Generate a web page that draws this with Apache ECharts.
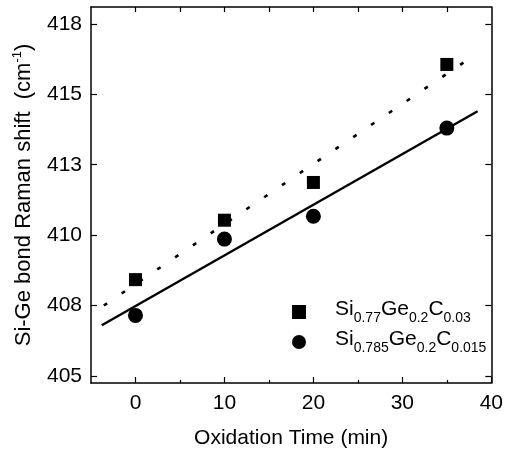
<!DOCTYPE html>
<html><head><meta charset="utf-8">
<script src="https://cdn.jsdelivr.net/npm/echarts@6/dist/echarts.min.js"></script>
<style>html,body{margin:0;padding:0;background:#fff}#c{width:506px;height:454px}</style>
</head><body><div id="c"></div>
<script>
// Data
const times = [0, 10, 20, 35];
const sqValues = [408.42, 410.53, 411.87, 416.06];  // Si0.77Ge0.2C0.03
const ciValues = [407.15, 409.86, 410.67, 413.8];   // Si0.785Ge0.2C0.015
const sqFit = [[-3.56, 407.5], [38.2, 416.41]];
const ciFit = [[-3.79, 406.8], [38.46, 414.4]];
const yTicks = [405, 407.5, 410, 412.5, 415, 417.5];
const xTicks = [0, 10, 20, 30, 40];
const xMinor = [5, 15, 25, 35];
const xTopTicks = [0, 5, 10, 15, 20, 25, 30, 35];

const FONT = 'Liberation Sans';
const chart = echarts.init(document.getElementById('c'));
const xRange = {min: -5, max: 40};
const yRange = {min: 404.75, max: 418.1};
chart.setOption({
  animation: false,
  textStyle: {fontFamily: FONT, color: '#000'},
  grid: {left: 91, right: 14, top: 7, bottom: 68},
  legend: {
    orient: 'vertical', left: 287, top: 294, itemWidth: 14, itemHeight: 14, itemGap: 4,
    data: ['sq', 'ci'],
    formatter: function (n) {
      return n === 'sq'
        ? '{sp|}{n|Si}{s|0.77}{n|Ge}{s|0.2}{n|C}{s|0.03}'
        : '{sp|}{n|Si}{s|0.785}{n|Ge}{s|0.2}{n|C}{s|0.015}';
    },
    textStyle: {
      rich: {
        sp: {width: 24},
        n: {fontSize: 21, fontFamily: FONT, color: '#000', lineHeight: 26, verticalAlign: 'top'},
        s: {fontSize: 14, fontFamily: FONT, color: '#000', lineHeight: 26, verticalAlign: 'bottom', padding: [8, 0, 0, 0]}
      }
    }
  },
  xAxis: [{
    type: 'value', ...xRange, position: 'bottom',
    name: 'Oxidation Time (min)', nameLocation: 'middle', nameGap: 45,
    nameTextStyle: {fontSize: 21, fontFamily: FONT, color: '#000'},
    axisLine: {onZero: false, lineStyle: {color: '#000', width: 1.5}},
    axisTick: {inside: true, length: 6, customValues: xTicks, lineStyle: {color: '#000', width: 1.2}},
    axisLabel: {customValues: xTicks, fontSize: 21, color: '#000', margin: 10},
    splitLine: {show: false}
  }, {
    type: 'value', ...xRange, position: 'bottom',
    axisLine: {show: false, onZero: false},
    axisTick: {inside: true, length: 3, customValues: xMinor, lineStyle: {color: '#000', width: 1.2}},
    axisLabel: {show: false}, splitLine: {show: false}
  }, {
    type: 'value', ...xRange, position: 'top',
    axisLine: {onZero: false, lineStyle: {color: '#000', width: 1.5}},
    axisTick: {inside: true, length: 5, customValues: xTopTicks, lineStyle: {color: '#000', width: 1.2}},
    axisLabel: {show: false}, splitLine: {show: false}
  }],
  yAxis: [{
    type: 'value', ...yRange, position: 'left',
    name: '{a|Si-Ge bond Raman shift  (cm}{sup|-1}{a|)}',
    nameLocation: 'middle', nameGap: 56, nameRotate: 90,
    nameTextStyle: {rich: {
      a: {fontSize: 22, fontFamily: FONT, color: '#000', lineHeight: 24, verticalAlign: 'bottom'},
      sup: {fontSize: 13, fontFamily: FONT, color: '#000', lineHeight: 24, verticalAlign: 'top'}
    }},
    axisLine: {onZero: false, lineStyle: {color: '#000', width: 1.5}},
    axisTick: {inside: true, length: 6, customValues: yTicks, lineStyle: {color: '#000', width: 1.2}},
    axisLabel: {customValues: yTicks, fontSize: 21, color: '#000', margin: 9,
      formatter: v => String(Math.round(v))},
    splitLine: {show: false}
  }, {
    type: 'value', ...yRange, position: 'right',
    axisLine: {onZero: false, lineStyle: {color: '#000', width: 1.5}},
    axisTick: {inside: true, length: 6, customValues: yTicks, lineStyle: {color: '#000', width: 1.2}},
    axisLabel: {show: false}, splitLine: {show: false}
  }],
  series: [
    {type: 'line', data: sqFit, symbol: 'none', silent: true,
     lineStyle: {color: '#000', width: 2.6, type: [4, 17.5]}},
    {type: 'line', data: ciFit, symbol: 'none', silent: true,
     lineStyle: {color: '#000', width: 2.4}},
    {name: 'sq', type: 'scatter', symbol: 'rect', symbolSize: 13,
     itemStyle: {color: '#000', opacity: 1}, data: times.map((t, i) => [t, sqValues[i]])},
    {name: 'ci', type: 'scatter', symbol: 'circle', symbolSize: 15,
     itemStyle: {color: '#000', opacity: 1}, data: times.map((t, i) => [t, ciValues[i]])}
  ]
});
</script></body></html>
